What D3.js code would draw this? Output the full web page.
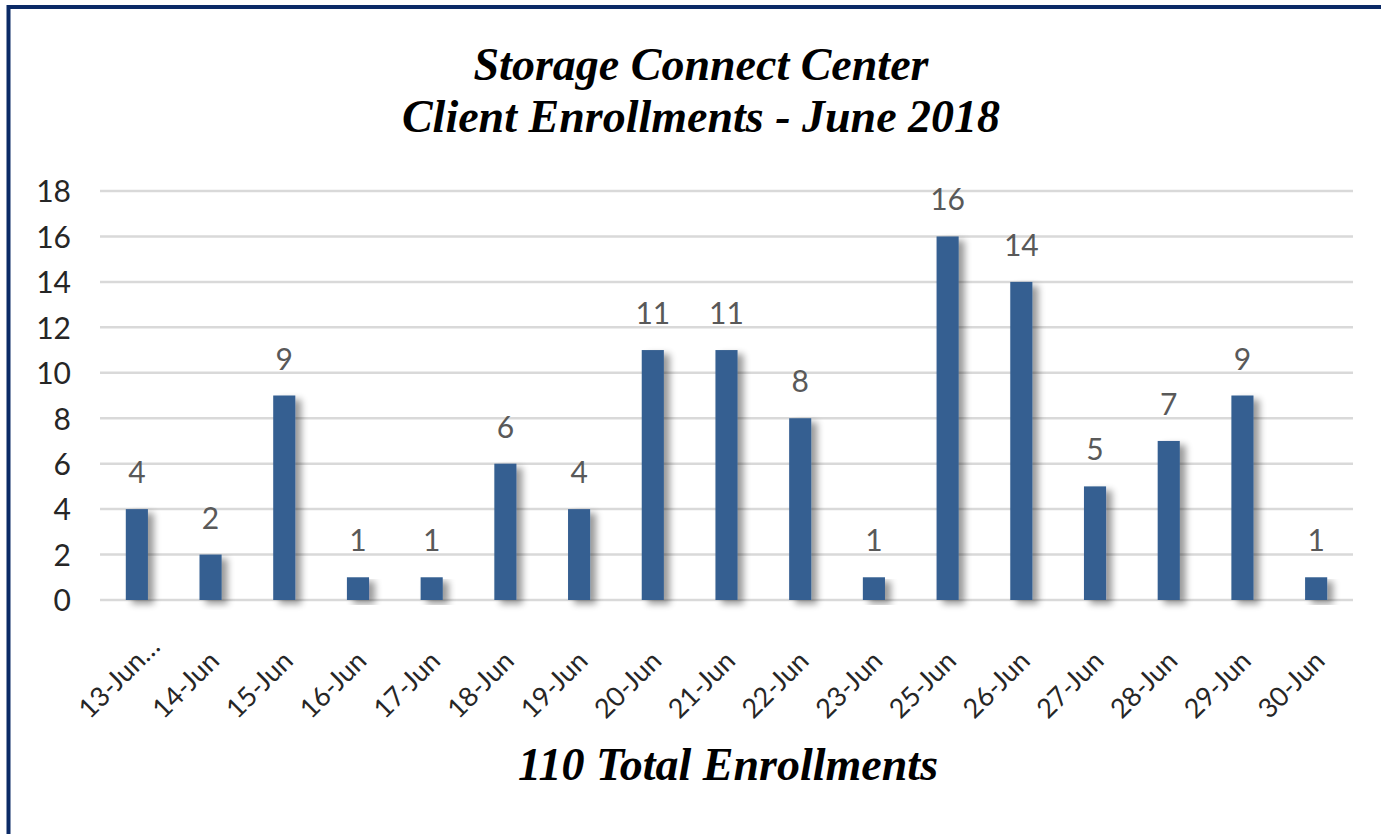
<!DOCTYPE html>
<html><head><meta charset="utf-8">
<script src="https://cdn.jsdelivr.net/npm/d3@7"></script>
<style>
html,body{margin:0;padding:0;background:#fff;}
svg{display:block;}
</style></head>
<body>
<svg id="chart" width="1381" height="834"></svg>
<script>
const categories = ["13-Jun…","14-Jun","15-Jun","16-Jun","17-Jun","18-Jun","19-Jun","20-Jun","21-Jun","22-Jun","23-Jun","25-Jun","26-Jun","27-Jun","28-Jun","29-Jun","30-Jun"];
const enrollments = [4,2,9,1,1,6,4,11,11,8,1,16,14,5,7,9,1];
const yTicks = [0,2,4,6,8,10,12,14,16,18];
const titleLines = ["Storage Connect Center","Client Enrollments - June 2018"];
const footerText = "110 Total Enrollments";

const svg = d3.select("#chart");
const plot = {left:100, right:1353, top:191, bottom:600};
const sansFont = "Lato, 'Open Sans', sans-serif";
const serifFont = "'Liberation Serif', 'Times New Roman', serif";

// border (only top & left edges visible in the reference; the rest is cropped)
svg.append("rect").attr("x",8.5).attr("y",7).attr("width",1420).attr("height",900)
  .attr("fill","none").attr("stroke","#0b2a66").attr("stroke-width",4);

const defs = svg.append("defs");
const f = defs.append("filter").attr("id","shadow").attr("x","-50%").attr("y","-10%").attr("width","220%").attr("height","130%");
f.append("feGaussianBlur").attr("in","SourceAlpha").attr("stdDeviation",3.5).attr("result","b");
f.append("feOffset").attr("in","b").attr("dx",6).attr("dy",4).attr("result","o");
f.append("feComponentTransfer").attr("in","o").attr("result","oa")
  .append("feFuncA").attr("type","linear").attr("slope",0.4);
const m = f.append("feMerge");
m.append("feMergeNode").attr("in","oa");
m.append("feMergeNode").attr("in","SourceGraphic");

const x = d3.scaleBand().domain(categories).range([plot.left, plot.right]).paddingInner(0.70).paddingOuter(0.35);
const y = d3.scaleLinear().domain([0,18]).range([plot.bottom, plot.top]);

// gridlines
svg.append("g").selectAll("line").data(yTicks).join("line")
  .attr("x1",plot.left).attr("x2",plot.right)
  .attr("y1",d=>y(d)).attr("y2",d=>y(d))
  .attr("stroke","#d9d9d9").attr("stroke-width",2.5);

// y axis labels
const yAxis = d3.axisLeft(y).tickValues(yTicks).tickSize(0).tickPadding(0);
const yg = svg.append("g").attr("transform",`translate(${71},0)`).call(yAxis);
yg.select(".domain").remove();
yg.selectAll("text").attr("font-family",sansFont).attr("font-size",30).attr("fill","#262626").attr("dy","0.36em");

// bars
svg.append("g").selectAll("rect").data(enrollments).join("rect")
  .attr("x",(d,i)=>x(categories[i]))
  .attr("width",x.bandwidth())
  .attr("y",d=>y(d))
  .attr("height",d=>y(0)-y(d))
  .attr("fill","#355f91")
  .attr("filter","url(#shadow)");

// data labels
svg.append("g").selectAll("text").data(enrollments).join("text")
  .attr("x",(d,i)=>x(categories[i])+x.bandwidth()/2)
  .attr("y",d=>y(d)-26)
  .attr("text-anchor","middle")
  .attr("font-family",sansFont).attr("font-size",30)
  .attr("fill","#595959").text(d=>d);

// x axis labels (rotated, starting below-left of each tick)
const xAxis = d3.axisBottom(x).tickSize(0).tickPadding(0);
const xg = svg.append("g").attr("transform",`translate(0,${plot.bottom})`).call(xAxis);
xg.select(".domain").remove();
xg.selectAll("text")
  .attr("font-family",sansFont).attr("font-size",27).attr("fill","#262626")
  .attr("text-anchor","start").attr("y",0).attr("dy",0)
  .attr("transform","translate(-47,120) rotate(-45)");

// title
svg.append("g").selectAll("text").data(titleLines).join("text")
  .attr("x",701).attr("y",(d,i)=>80+i*52)
  .attr("text-anchor","middle")
  .attr("font-family",serifFont)
  .attr("font-style","italic").attr("font-weight","bold").attr("font-size",46)
  .attr("fill","#000").text(d=>d);

svg.append("text").attr("x",728).attr("y",780).attr("text-anchor","middle")
  .attr("font-family",serifFont)
  .attr("font-style","italic").attr("font-weight","bold").attr("font-size",46)
  .attr("fill","#000").text(footerText);
</script>
</body></html>
